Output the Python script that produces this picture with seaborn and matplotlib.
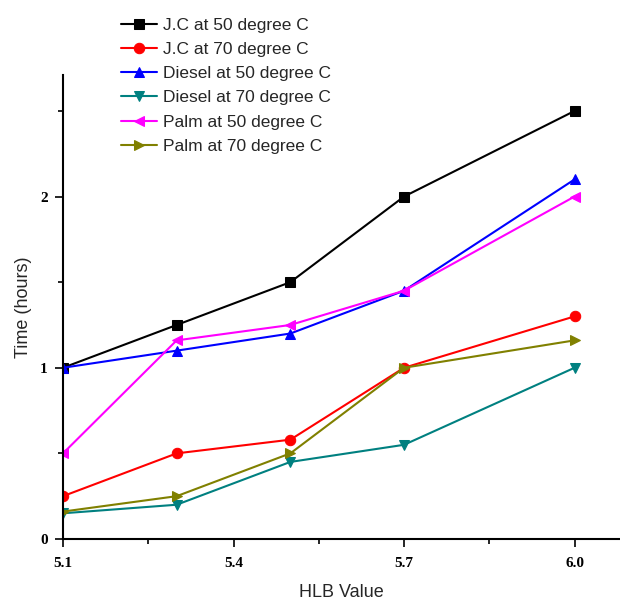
import numpy as np
import pandas as pd
import matplotlib
matplotlib.use("Agg")
import matplotlib.pyplot as plt
import seaborn as sns
from matplotlib.ticker import MultipleLocator

# HLB values on the x axis
hlb = [5.1, 5.3, 5.5, 5.7, 6.0]

# Time (hours) for each series
jc_50 = [1.0, 1.25, 1.5, 2.0, 2.5]
jc_70 = [0.25, 0.5, 0.58, 1.0, 1.3]
diesel_50 = [1.0, 1.1, 1.2, 1.45, 2.1]
diesel_70 = [0.15, 0.2, 0.45, 0.55, 1.0]
palm_50 = [0.5, 1.16, 1.25, 1.45, 2.0]
palm_70 = [0.16, 0.25, 0.5, 1.0, 1.16]

labels = ["J.C at 50 degree C", "J.C at 70 degree C", "Diesel at 50 degree C",
          "Diesel at 70 degree C", "Palm at 50 degree C", "Palm at 70 degree C"]
series = [jc_50, jc_70, diesel_50, diesel_70, palm_50, palm_70]
colors = ["#000000", "#FF0000", "#0000FF", "#008080", "#FF00FF", "#808000"]
markers = ["s", "o", "^", "v", "<", ">"]

sns.set_style("ticks")
plt.rcParams['font.family'] = ['Liberation Sans', 'DejaVu Sans']

fig = plt.figure(figsize=(6.2, 6.02), dpi=100)
ax = fig.add_axes([0.1016, 0.1047, 0.8984, 0.7707])

for lab, vals, col, mk in zip(labels, series, colors, markers):
    df = pd.DataFrame({"HLB": hlb, "Time": vals})
    sns.lineplot(data=df, x="HLB", y="Time", color=col, marker=mk, markersize=7.5,
                 markeredgecolor=col, linewidth=1.5, label=lab, ax=ax)

ax.set_xlim(5.1, 6.08)
ax.set_ylim(0, 2.71)
ax.xaxis.set_minor_locator(MultipleLocator(0.15))
ax.yaxis.set_major_locator(MultipleLocator(1))
ax.yaxis.set_minor_locator(MultipleLocator(0.5))
ax.set_xticks([5.1, 5.4, 5.7, 6.0])
ax.set_xticklabels(["5.1", "5.4", "5.7", "6.0"])

for side in ["top", "right"]:
    ax.spines[side].set_visible(False)
for side in ["left", "bottom"]:
    ax.spines[side].set_linewidth(1.5)
    ax.spines[side].set_color("black")

ax.tick_params(which="major", direction="out", length=5.5, width=1.2, colors="black")
ax.tick_params(which="minor", direction="out", length=3.3, width=1.2, colors="black")
ax.tick_params(axis="x", which="major", pad=7.5)
ax.tick_params(axis="y", which="major", pad=5.5)
for t in ax.get_xticklabels() + ax.get_yticklabels():
    t.set_fontfamily("Liberation Serif")
    t.set_fontweight("bold")
    t.set_fontsize(11)

ax.set_xlabel("HLB Value", fontsize=13, labelpad=10)
ax.set_ylabel("Time (hours)", fontsize=13, labelpad=6)

ax.legend(loc="upper left", bbox_to_anchor=(0.181, 0.985), bbox_transform=fig.transFigure,
          frameon=False, fontsize=12.5, handlelength=2.1, handletextpad=0.3,
          labelspacing=0.52, borderpad=0)

fig.savefig("out.png", dpi=100)
